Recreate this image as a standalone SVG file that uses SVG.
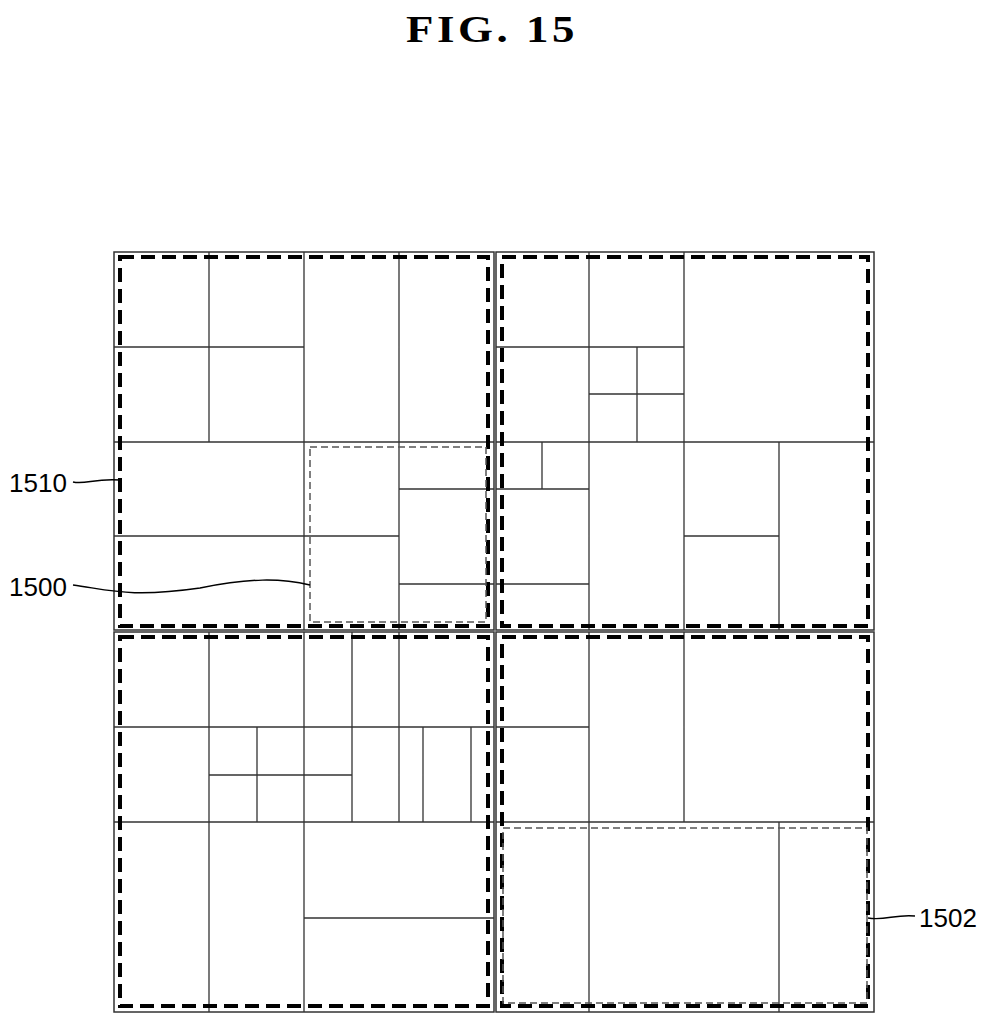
<svg xmlns="http://www.w3.org/2000/svg" width="988" height="1024" viewBox="0 0 988 1024">
<style>
.g{stroke:#333;stroke-width:1.3;fill:none}
.q{stroke:#333;stroke-width:1.5;fill:none}
.d{stroke:#000;stroke-width:4;fill:none;stroke-dasharray:14,7}
.t{stroke:#555;stroke-width:1.5;fill:none;stroke-dasharray:7,4}
.l{stroke:#000;stroke-width:1.5;fill:none}
.lb{font-family:"Liberation Sans",Arial,sans-serif;font-size:26px;fill:#000}
</style>
<rect width="988" height="1024" fill="#fff"/>
<text x="492" y="42" text-anchor="middle" font-family="Liberation Serif,serif" font-weight="bold" font-size="38" letter-spacing="3" textLength="172" lengthAdjust="spacingAndGlyphs">FIG. 15</text>
<g id="grid">
<rect class="q" x="114" y="252" width="380" height="378"/>
<rect class="q" x="496" y="252" width="378" height="378"/>
<rect class="q" x="114" y="632" width="380" height="380"/>
<rect class="q" x="496" y="632" width="378" height="380"/>
<path class="g" d="M209 252V442M114 347H304M304 252V630M399 252V630M114 442H494M114 536H399M399 489H494M399 584H494"/>
<path class="g" d="M589 252V630M684 252V630M496 347H684M637 347V442M589 394H684M496 442H874M542 442V489M496 489H589M496 584H589M779 442V630M684 536H779"/>
<path class="g" d="M209 632V1012M304 632V1012M352 632V822M399 632V822M114 727H494M209 775H352M257 727V822M423 727V822M471 727V822M114 822H494M304 918H494"/>
<path class="g" d="M589 632V1012M684 632V822M496 727H589M496 822H874M779 822V1012"/>
</g>
<g id="ctu">
<rect class="d" x="120" y="257" width="368" height="369"/>
<rect class="d" x="502" y="257" width="366" height="369"/>
<rect class="d" x="120" y="637" width="368" height="369"/>
<rect class="d" x="502" y="637" width="366" height="369"/>
</g>
<g id="n1500"><rect class="t" x="310" y="447" width="176" height="175"/></g>
<g id="n1502"><rect class="t" x="503" y="828" width="364" height="175"/></g>
<g id="connectors">
<path class="l" d="M73 482C85 485 95 478 120 480"/>
<path class="l" d="M73 585C110 590 130 598 200 588C250 578 280 578 310 585"/>
<path class="l" d="M868 918C885 921 895 914 915 916"/>
</g>
<text class="lb" x="9" y="492">1510</text>
<text class="lb" x="9" y="596">1500</text>
<text class="lb" x="919" y="927">1502</text>
</svg>
